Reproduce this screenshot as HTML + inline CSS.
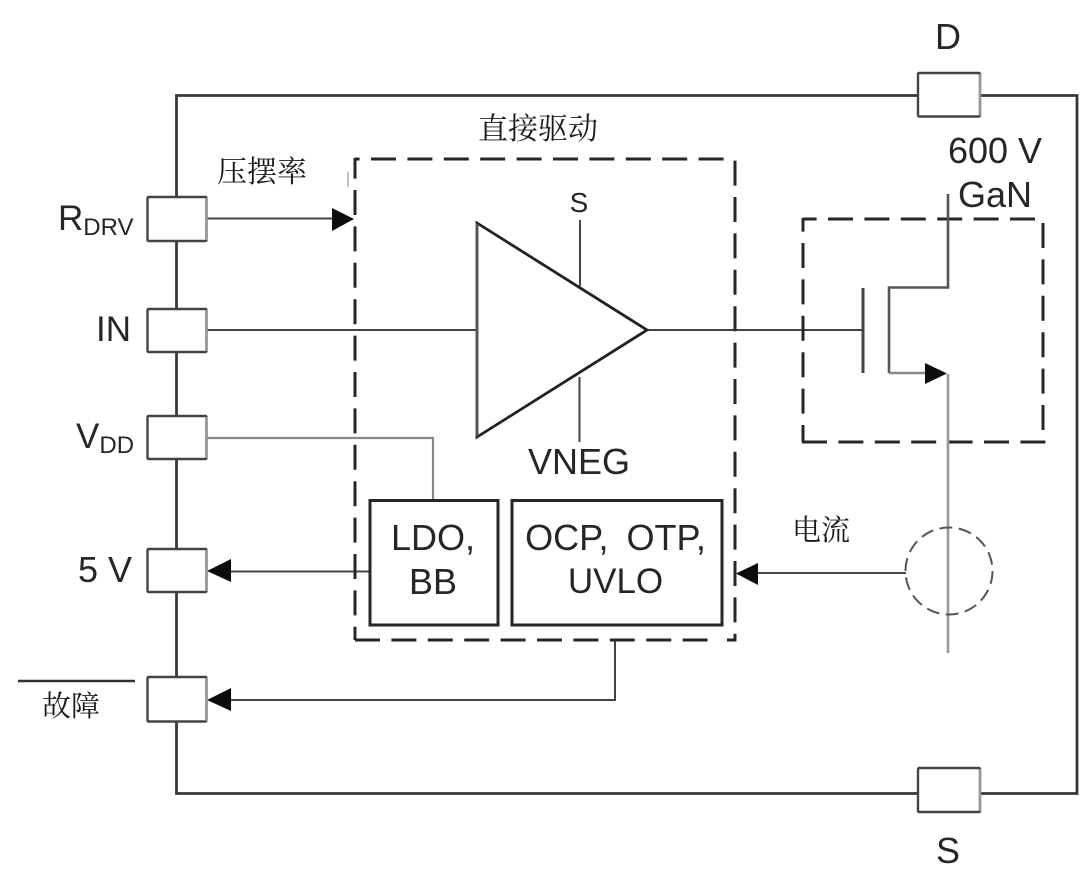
<!DOCTYPE html>
<html>
<head>
<meta charset="utf-8">
<style>
html,body{margin:0;padding:0;background:#fff;width:1080px;height:883px;overflow:hidden}
svg{display:block}
text{font-family:"Liberation Sans",sans-serif;fill:#262626}
.cjk{font-family:"Liberation Serif","Noto Serif CJK SC",serif;fill:#1a1a1a}
</style>
</head>
<body>
<svg width="1080" height="883" viewBox="0 0 1080 883" xmlns="http://www.w3.org/2000/svg">
<!-- outer frame -->
<path d="M176.500 760V95.500H918M980 95.500H1077V793.500H980M918 793.500H176.500V760" fill="none" stroke="#383838" stroke-width="2.800"/>

<!-- wires -->
<g fill="none" stroke="#444" stroke-width="2">
<path d="M207 218.500H335"/>
<path d="M207 330H476"/>
<path d="M648 330H863"/>
<path d="M580 220V286"/>
<path d="M579.500 377V442"/>
<path d="M228 571.500H370"/>
<path d="M615 641V700H228"/>
<path d="M756 573H906"/>
</g>
<path d="M207 438H433V500" fill="none" stroke="#888" stroke-width="2.200"/>

<!-- dashed driver box -->
<g fill="none" stroke="#262626" stroke-width="3">
<path d="M355 159H735" stroke-dasharray="25 11.400" stroke-dashoffset="20.400"/>
<path d="M355 158V640" stroke-dasharray="25 11.400" stroke-dashoffset="4.400"/>
<path d="M735 160.600V640" stroke-dasharray="25 11.400"/>
<path d="M355 640H708" stroke-dasharray="25 11.400"/>
<path d="M727 640H736.500"/>
</g>
<!-- dashed FET box -->
<g fill="none" stroke="#262626" stroke-width="3">
<path d="M803 218V442" stroke-dasharray="25 11.400" stroke-dashoffset="11.400"/>
<path d="M803 219H1043" stroke-dasharray="25 11.400" stroke-dashoffset="11.400"/>
<path d="M1043 223V430" stroke-dasharray="25 11.400"/>
<path d="M802 442H1045.500" stroke-dasharray="25 11.400"/>
</g>

<!-- amplifier -->
<path d="M477 223L647 330L477 437Z" fill="#fff" stroke="#222" stroke-width="2.800"/>
<path d="M477 224V436" stroke="#555" stroke-width="2.800"/>
<path d="M207 330H476" stroke="#444" stroke-width="2"/>

<!-- FET -->
<path d="M863 288V373" fill="none" stroke="#444" stroke-width="3"/>
<path d="M948 194V287.500H889V373" fill="none" stroke="#555" stroke-width="2.600"/>
<path d="M889 373H926" fill="none" stroke="#888" stroke-width="2.600"/>
<path d="M948 374V653" fill="none" stroke="#999" stroke-width="2.600"/>
<path d="M925 363L947 373.500L925 384Z" fill="#0c0c0c"/>

<!-- current sense -->
<circle cx="949" cy="571" r="43.500" fill="none" stroke="#555" stroke-width="2" stroke-dasharray="13 6.500"/>

<!-- arrowheads -->
<g fill="#0c0c0c">
<path d="M332 208L354 219L332 231Z"/>
<path d="M207 571L231 559V582Z"/>
<path d="M207 700L231 688V711Z"/>
<path d="M736 573.500L758 563V585Z"/>
</g>

<!-- pins -->
<g fill="#fff" stroke="#444" stroke-width="2.400">
<rect x="147.500" y="197" width="59" height="44" rx="1"/>
<rect x="147.500" y="309" width="59" height="43" rx="1"/>
<rect x="147.500" y="416" width="59" height="43" rx="1"/>
<rect x="147.500" y="549" width="59" height="43" rx="1"/>
<rect x="147.500" y="677" width="59" height="44.500" rx="1"/>
<rect x="918" y="73" width="62" height="43.500" rx="1"/>
<rect x="918" y="768" width="62" height="44" rx="1"/>
</g>
<g stroke="#999" stroke-width="2.400">
<path d="M206.500 198V240M206.500 310V351M206.500 417V458M206.500 550V591M206.500 678V721M980 74V115.500M980 769V811"/>
</g>

<!-- inner blocks -->
<g fill="#fff" stroke="#262626" stroke-width="3">
<rect x="370" y="500.500" width="128" height="124.500"/>
<rect x="512" y="500.500" width="210" height="124.500"/>
</g>

<!-- small artefact + overbar -->
<path d="M348 172V187" stroke="#aaa" stroke-width="1.500"/>
<path d="M18 681H135" stroke="#333" stroke-width="2.500"/>

<!-- labels -->
<text x="948" y="49" text-anchor="middle" font-size="36">D</text>
<text x="948" y="863" text-anchor="middle" font-size="36">S</text>
<text x="995" y="163" text-anchor="middle" font-size="36">600 V</text>
<text x="995" y="207" text-anchor="middle" font-size="36">GaN</text>
<text x="579" y="212" text-anchor="middle" font-size="28">S</text>
<text x="579" y="474" text-anchor="middle" font-size="36">VNEG</text>
<text x="58" y="230" font-size="35">R<tspan font-size="24" dy="5">DRV</tspan></text>
<text x="96" y="341" font-size="35">IN</text>
<text x="76" y="448" font-size="35">V<tspan font-size="24" dy="5">DD</tspan></text>
<text x="78" y="582" font-size="36">5 V</text>
<text x="433" y="550" text-anchor="middle" font-size="36">LDO,</text>
<text x="433" y="594" text-anchor="middle" font-size="36">BB</text>
<text x="615.500" y="550" text-anchor="middle" font-size="36" word-spacing="8">OCP, OTP,</text>
<text x="615.500" y="593" text-anchor="middle" font-size="35">UVLO</text>
<text class="cjk" x="538" y="139" text-anchor="middle" font-size="30">直接驱动</text>
<text class="cjk" x="262" y="182" text-anchor="middle" font-size="30">压摆率</text>
<text class="cjk" x="821" y="540" text-anchor="middle" font-size="29">电流</text>
<text class="cjk" x="71" y="716" text-anchor="middle" font-size="29">故障</text>
</svg>
</body>
</html>
